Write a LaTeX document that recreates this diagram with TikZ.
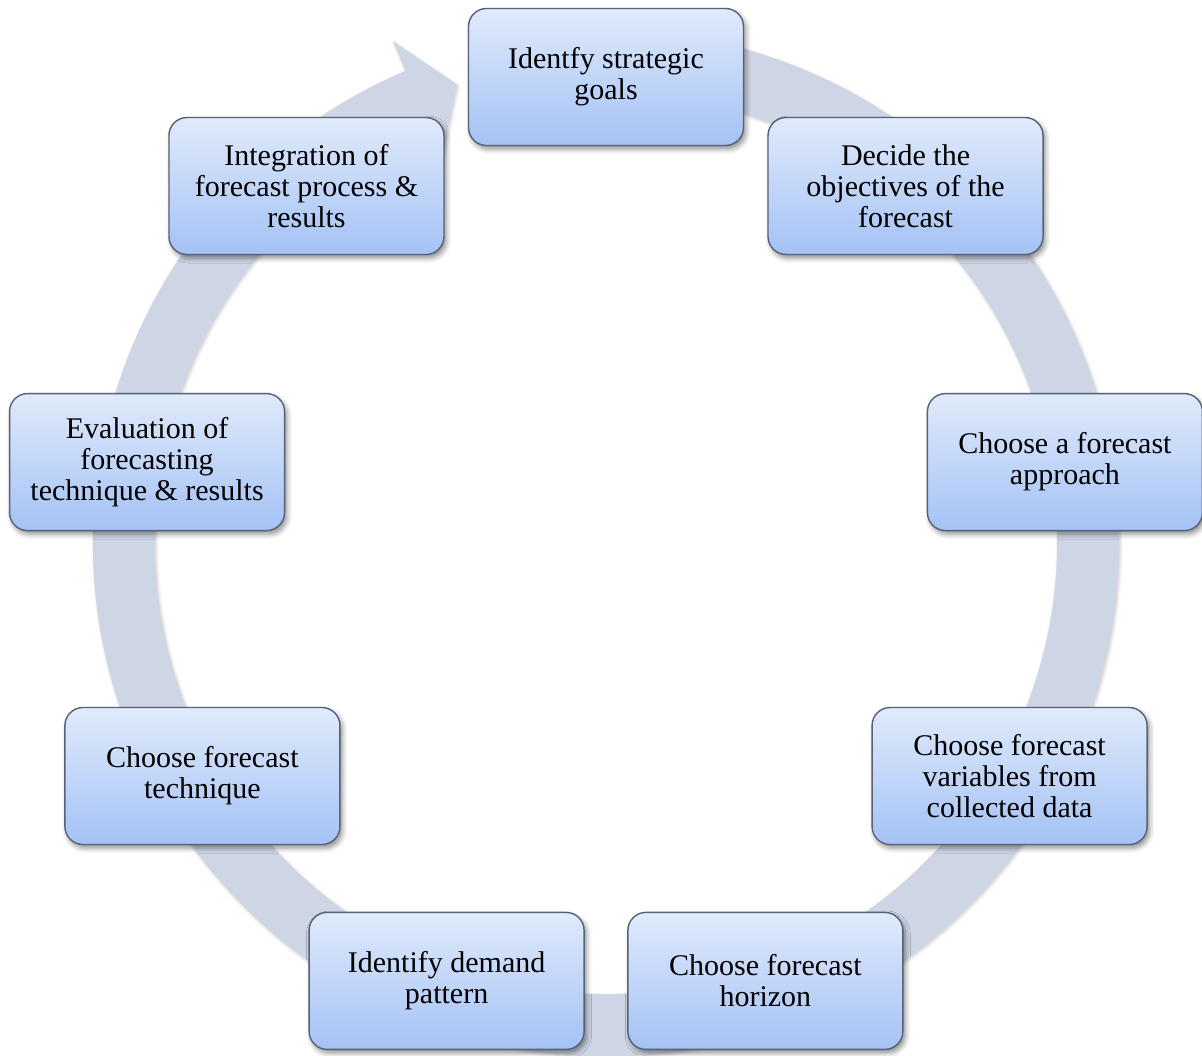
\documentclass[tikz,border=0pt]{standalone}
\usepackage{fontspec}
\setmainfont{Liberation Serif}
\usetikzlibrary{shadows.blur}

\definecolor{ringfill}{RGB}{206,213,228}
\definecolor{boxtop}{RGB}{224,234,251}
\definecolor{boxbot}{RGB}{164,194,245}
\definecolor{boxedge}{RGB}{88,98,118}

\begin{document}
\begin{tikzpicture}[x=0.5pt,y=0.5pt,
  stage/.style={draw=boxedge, line width=0.7pt, rounded corners=9pt,
    top color=boxtop, bottom color=boxbot,
    minimum width=137.5pt, minimum height=68.5pt, inner sep=2pt,
    align=center, text=black, font=\fontsize{15}{15.5}\selectfont,
    blur shadow={shadow xshift=1.2pt, shadow yshift=-1.8pt,
      shadow blur radius=2.5pt, shadow opacity=45}},
  cyclering/.style={fill=ringfill,
    blur shadow={shadow xshift=0.6pt, shadow yshift=-0.8pt,
      shadow blur radius=1.5pt, shadow opacity=20}}]

\useasboundingbox (-606,-512) rectangle (596,543);

% circular band running clockwise, ending in an arrow head
\path[cyclering] (80:451) -- (80:513)
  arc[start angle=80, end angle=-247, radius=513]
  -- (113:545) -- (108:482) -- (113:420) -- (113:451)
  arc[start angle=-247, end angle=80, radius=451] -- cycle;

% process stages
\node[stage] (goals)       at (90:466)   {Identfy strategic\\goals};
\node[stage] (objectives)  at (50:466)   {Decide the\\objectives of the\\forecast};
\node[stage] (approach)    at (10:466)   {Choose a forecast\\approach};
\node[stage] (variables)   at (-30:466)  {Choose forecast\\variables from\\collected data};
\node[stage] (horizon)     at (-70:466)  {Choose forecast\\horizon};
\node[stage] (pattern)     at (-110:466) {Identify demand\\pattern};
\node[stage] (technique)   at (-150:466) {Choose forecast\\technique};
\node[stage] (evaluation)  at (170:466)  {Evaluation of\\forecasting\\technique \& results};
\node[stage] (integration) at (130:466)  {Integration of\\forecast process \&\\results};
\end{tikzpicture}
\end{document}
